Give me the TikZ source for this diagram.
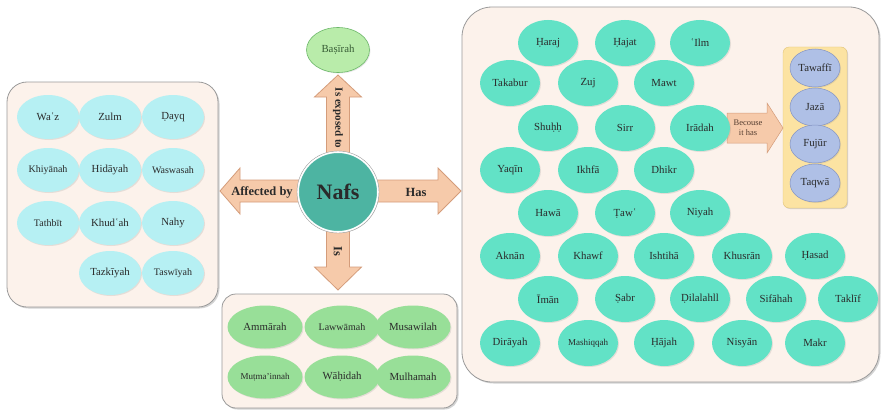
\documentclass[tikz,border=0pt]{standalone}
\usepackage{fontspec}
\setmainfont{Liberation Serif}
\usetikzlibrary{shapes.geometric,shadows}
\definecolor{panelfill}{HTML}{FCF2EB}
\definecolor{panelline}{HTML}{9A9A9A}
\definecolor{cyanfill}{HTML}{B6F0F3}
\definecolor{greenfill}{HTML}{98DF98}
\definecolor{tealfill}{HTML}{62E2C6}
\definecolor{bluefill}{HTML}{AFC0E6}
\definecolor{blueline}{HTML}{8494C4}
\definecolor{yellowfill}{HTML}{FCE3A2}
\definecolor{yellowline}{HTML}{E2C47A}
\definecolor{arrfill}{HTML}{F6CAAA}
\definecolor{arrline}{HTML}{D49C7A}
\definecolor{nafsfill}{HTML}{4DB4A2}
\definecolor{basfill}{HTML}{B9ECAA}
\definecolor{basline}{HTML}{6DB86A}
\definecolor{txt}{HTML}{2A2A2A}
\tikzset{
  panel/.style={draw=panelline, line width=0.8pt, fill=panelfill,
    drop shadow={opacity=0.35, shadow xshift=1.5pt, shadow yshift=-1.5pt}},
  blob/.style={ellipse, inner sep=0pt, text=txt, font=\fontsize{10.8}{12}\selectfont,
    drop shadow={opacity=0.18, shadow xshift=1pt, shadow yshift=-1pt}},
  cyanblob/.style={blob, fill=cyanfill, minimum width=62pt, minimum height=44pt},
  greenblob/.style={blob, fill=greenfill, minimum width=75pt, minimum height=43pt},
  tealblob/.style={blob, fill=tealfill, minimum width=60pt, minimum height=46pt},
  blueblob/.style={blob, fill=bluefill, draw=blueline, line width=0.5pt, minimum width=50pt, minimum height=38pt},
  blockarrow/.style={fill=arrfill, draw=arrline, line width=0.8pt, line join=miter},
  arrlabel/.style={font=\bfseries\fontsize{12.5}{14}\selectfont, text=txt, inner sep=0pt},
}
\begin{document}
\begin{tikzpicture}[x=1pt, y=-1pt]
\useasboundingbox (0,0) rectangle (882,412);

% panels
\draw[panel, rounded corners=20pt] (7,82) rectangle (218,307);
\draw[panel, rounded corners=14pt] (222,294) rectangle (457,408);
\draw[panel, rounded corners=30pt] (462,7) rectangle (879,382);
\node[draw=yellowline, fill=yellowfill, rounded corners=6pt, minimum width=64pt, minimum height=161pt, inner sep=0pt,
  drop shadow={opacity=0.3, shadow xshift=1pt, shadow yshift=-1pt}] (ybox) at (815,127.5) {};

% centre
\coordinate (c) at (338,192);
\draw[blockarrow] (326.5,160) -- (326.5,97) -- (314.5,97) -- (338,75) -- (361.5,97) -- (349.5,97) -- (349.5,160) -- cycle;
\draw[blockarrow] (326.5,225) -- (326.5,267) -- (314.5,267) -- (338,290) -- (361.5,267) -- (349.5,267) -- (349.5,225) -- cycle;
\draw[blockarrow] (305,180) -- (240,180) -- (240,168) -- (220,191) -- (240,214) -- (240,202) -- (305,202) -- cycle;
\draw[blockarrow] (370,180) -- (438,180) -- (438,168) -- (461,191) -- (438,214) -- (438,202) -- (370,202) -- cycle;
\node[arrlabel, font=\bfseries\fontsize{11}{13}\selectfont, rotate=-90] (lup) at (338,118) {Is exposed to};
\node[arrlabel, rotate=-90] (ldown) at (338,251) {Is};
\node[arrlabel] (lleft) at (262,192) {Affected by};
\node[arrlabel] (lright) at (416,192) {Has};

\node[circle, minimum size=80pt, inner sep=0pt, fill=nafsfill, draw=white, line width=2pt,
  font=\bfseries\fontsize{22}{24}\selectfont, text=txt,
  drop shadow={opacity=0.3, shadow xshift=1pt, shadow yshift=-1pt}] (nafs) at (c) {Nafs};
\draw[panelline, line width=0.4pt] (nafs) circle (41pt);

\node[blob, fill=basfill, draw=basline, line width=0.6pt, minimum width=63pt, minimum height=45pt,
  text=basline!50!black] (basirah) at (338,50) {Baṣīrah};

% becouse arrow
\draw[blockarrow, line width=0.5pt] (727,113) -- (767,113) -- (767,103) -- (783,128) -- (767,153) -- (767,143) -- (727,143) -- cycle;
\node[font=\fontsize{8.5}{9.5}\selectfont, text=arrline!40!black, align=center, inner sep=0pt] (becouse) at (748,128) {Becouse\\it has};

% left panel
\node[cyanblob] (waz) at (48,117) {Waʿz};
\node[cyanblob] (zulm) at (110,117) {Zulm};
\node[cyanblob] (dayq) at (173,117) {Ḍayq};
\node[cyanblob] (khiyanah) at (48,170) {\fontsize{10}{11}\selectfont Khiyānah};
\node[cyanblob] (hidayah) at (110,170) {Hidāyah};
\node[cyanblob] (waswasah) at (173,170) {\fontsize{10}{11}\selectfont Waswasah};
\node[cyanblob] (tathbit) at (48,223) {\fontsize{10}{11}\selectfont Tathbīt};
\node[cyanblob] (khudah) at (110,223) {Khudʿah};
\node[cyanblob] (nahy) at (173,223) {Nahy};
\node[cyanblob] (tazkiyah) at (110,273) {Tazkīyah};
\node[cyanblob] (taswiyah) at (173,273) {\fontsize{10}{11}\selectfont Taswīyah};

% bottom panel
\node[greenblob] (ammarah) at (265,327) {Ammārah};
\node[greenblob] (lawwamah) at (342,327) {\fontsize{10}{11}\selectfont Lawwāmah};
\node[greenblob] (musawilah) at (413,327) {Musawilah};
\node[greenblob] (mutmainnah) at (265,377) {\fontsize{9}{10}\selectfont Muṭma'innah};
\node[greenblob] (wahidah) at (342,377) {Wāḥidah};
\node[greenblob] (mulhamah) at (413,377) {Mulhamah};

% right panel
\node[tealblob] (haraj) at (548,43) {Ḥaraj};
\node[tealblob] (hajat) at (625,43) {Ḥajat};
\node[tealblob] (ilm) at (700,43) {ʿIlm};
\node[tealblob] (takabur) at (510,83) {Takabur};
\node[tealblob] (zuj) at (588,83) {Zuj};
\node[tealblob] (mawt) at (664,83) {Mawt};
\node[tealblob] (shuhh) at (548,128) {Shuḥḥ};
\node[tealblob] (sirr) at (625,128) {Sirr};
\node[tealblob] (iradah) at (700,128) {Irādah};
\node[tealblob] (yaqin) at (510,170) {Yaqīn};
\node[tealblob] (ikhfa) at (588,170) {Ikhfā};
\node[tealblob] (dhikr) at (664,170) {Dhikr};
\node[tealblob] (hawa) at (548,213) {Hawā};
\node[tealblob] (taw) at (625,213) {Ṭawʿ};
\node[tealblob] (niyah) at (700,213) {Niyah};
\node[tealblob] (aknan) at (510,256) {Aknān};
\node[tealblob] (khawf) at (588,256) {Khawf};
\node[tealblob] (ishtiha) at (664,256) {Ishtihā};
\node[tealblob] (khusran) at (742,256) {Khusrān};
\node[tealblob] (hasad) at (815,256) {Ḥasad};
\node[tealblob] (iman) at (548,299) {Īmān};
\node[tealblob] (sabr) at (625,299) {Ṣabr};
\node[tealblob] (dilalahll) at (700,299) {Ḍilalahll};
\node[tealblob] (sifahah) at (776,299) {Sifāhah};
\node[tealblob] (taklif) at (848,299) {Taklīf};
\node[tealblob] (dirayah) at (510,343) {Dirāyah};
\node[tealblob] (mashiqqah) at (588,343) {\fontsize{9}{10}\selectfont Mashiqqah};
\node[tealblob] (hajah) at (664,343) {Ḥājah};
\node[tealblob] (nisyan) at (742,343) {Nisyān};
\node[tealblob] (makr) at (815,343) {Makr};

% blue
\node[blueblob] (tawaffi) at (815,68) {Tawaffī};
\node[blueblob] (jaza) at (815,107) {Jazā};
\node[blueblob] (fujur) at (815,144) {Fujūr};
\node[blueblob] (taqwa) at (815,183) {Taqwā};
\end{tikzpicture}
\end{document}
